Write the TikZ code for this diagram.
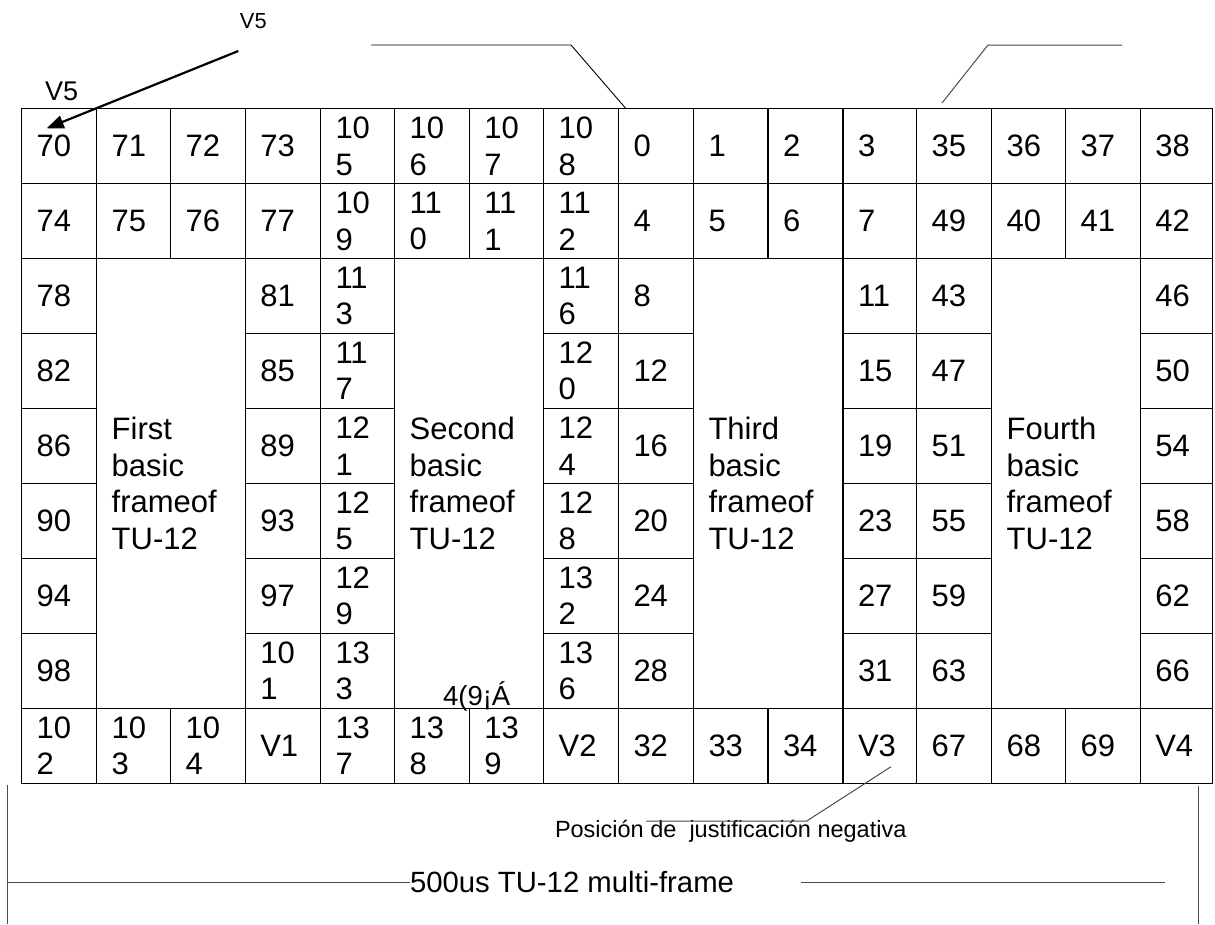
\documentclass[tikz,border=0pt]{standalone}
\usepackage{fontspec}
\setmainfont{Liberation Sans}
\usetikzlibrary{arrows.meta}
\def\xedges{{21.7,96.7,170.7,245.3,320.5,394.7,469.3,543.7,618.5,693.5,768.0,843.0,916.7,991.7,1065.7,1140.3,1212.3}}
\def\yedges{{108.7,183.6,258.6,333.5,408.5,483.4,558.4,633.3,708.3,783.2}}
\newcommand\cellnode[6]{%
  \pgfmathtruncatemacro\cellib{#2+#4}%
  \pgfmathtruncatemacro\celljb{#3+#5}%
  \pgfmathsetmacro\cellxa{\xedges[#2]}%
  \pgfmathsetmacro\cellxb{\xedges[\cellib]}%
  \pgfmathsetmacro\cellya{\yedges[#3]}%
  \pgfmathsetmacro\cellyb{\yedges[\celljb]}%
  \pgfmathsetmacro\cellw{\cellxb-\cellxa}%
  \pgfmathsetmacro\cellh{\cellyb-\cellya}%
  \pgfmathsetmacro\celltw{\cellw-30}%
  \pgfmathsetmacro\cellcx{(\cellxa+\cellxb)/2}%
  \pgfmathsetmacro\cellcy{(\cellya+\cellyb)/2}%
  \node[cell, minimum width=\cellw pt, minimum height=\cellh pt, text width=\celltw pt] (#1) at (\cellcx,\cellcy) {#6};%
}
\tikzset{
  cell/.style={draw, line width=1.3pt, inner xsep=15pt, inner ysep=0pt, align=left, anchor=center, outer sep=0pt,
    font=\fontsize{31}{36.5}\selectfont},
  lbl/.style={inner sep=0pt, outer sep=0pt},
  thinline/.style={line width=0.9pt, draw=black},
  grayline/.style={line width=1pt, draw=black!70},
}
\begin{document}
\begin{tikzpicture}[x=1pt,y=-1pt]
\useasboundingbox (0,0) rectangle (1215,924);
\fill[white] (0,0) rectangle (1215,924);
% row 0
\foreach \t [count=\i from 0] in {70,71,72,73,{10\\5},{10\\6},{10\\7},{10\\8},0,1,2,3,35,36,37,38}
  {\cellnode{c0-\i}{\i}{0}{1}{1}{\t}}
% row 1
\foreach \t [count=\i from 0] in {74,75,76,77,{10\\9},{11\\0},{11\\1},{11\\2},4,5,6,7,49,40,41,42}
  {\cellnode{c1-\i}{\i}{1}{1}{1}{\t}}
% row 8
\foreach \t [count=\i from 0] in {{10\\2},{10\\3},{10\\4},V1,{13\\7},{13\\8},{13\\9},V2,32,33,34,V3,67,68,69,V4}
  {\cellnode{c8-\i}{\i}{8}{1}{1}{\t}}
% side columns rows 2-7
\foreach \t [count=\k from 2] in {78,82,86,90,94,98}{\cellnode{c\k-0}{0}{\k}{1}{1}{\t}}
\foreach \t [count=\k from 2] in {81,85,89,93,97,{10\\1}}{\cellnode{c\k-3}{3}{\k}{1}{1}{\t}}
\foreach \t [count=\k from 2] in {{11\\3},{11\\7},{12\\1},{12\\5},{12\\9},{13\\3}}{\cellnode{c\k-4}{4}{\k}{1}{1}{\t}}
\foreach \t [count=\k from 2] in {{11\\6},{12\\0},{12\\4},{12\\8},{13\\2},{13\\6}}{\cellnode{c\k-7}{7}{\k}{1}{1}{\t}}
\foreach \t [count=\k from 2] in {8,12,16,20,24,28}{\cellnode{c\k-8}{8}{\k}{1}{1}{\t}}
\foreach \t [count=\k from 2] in {11,15,19,23,27,31}{\cellnode{c\k-11}{11}{\k}{1}{1}{\t}}
\foreach \t [count=\k from 2] in {43,47,51,55,59,63}{\cellnode{c\k-12}{12}{\k}{1}{1}{\t}}
\foreach \t [count=\k from 2] in {46,50,54,58,62,66}{\cellnode{c\k-15}{15}{\k}{1}{1}{\t}}
% merged basic frames
\cellnode{bf1}{1}{2}{2}{6}{First\\basic\\frameof\\TU-12}
\cellnode{bf2}{5}{2}{2}{6}{Second\\basic\\frameof\\TU-12}
\cellnode{bf3}{9}{2}{2}{6}{Third\\basic\\frameof\\TU-12}
\cellnode{bf4}{13}{2}{2}{6}{Fourth\\basic\\frameof\\TU-12}
% labels
\node[lbl, font=\fontsize{21.8}{26}\selectfont, anchor=base] (v5top) at (253.3,28.3) {V5};
\node[lbl, font=\fontsize{27}{30}\selectfont, anchor=base west] (v5low) at (45,100) {V5};
\node[lbl, font=\fontsize{27.5}{30}\selectfont, anchor=base] (glitch) at (476.7,705) {4(9¡Á};
\node[lbl, font=\fontsize{23.5}{26}\selectfont, anchor=base west] (neg) at (555,837.7) {Posición de\ \ justificación negativa};
\node[lbl, font=\fontsize{29.3}{32}\selectfont, anchor=base west] (span) at (410,892) {500us TU-12 multi-frame};
% connector coordinates
\coordinate (v5s) at (238.3,51);
\coordinate (v5t) at (46.7,128.3);
\coordinate (m1) at (371,45);
\coordinate (m2) at (571,45);
\coordinate (m3) at (626,108.7);
\coordinate (r1) at (942,103);
\coordinate (r2) at (988,45);
\coordinate (r3) at (1122,45);
\coordinate (n1) at (891,766.7);
\coordinate (n2) at (806.7,821);
\coordinate (n3) at (646,821);
\coordinate (lt) at (7.5,785);
\coordinate (lb) at (7.5,924);
\coordinate (lm) at (7.5,882);
\coordinate (rt) at (1198.3,785.7);
\coordinate (rb) at (1198.3,924);
\coordinate (h1) at (801,882);
\coordinate (h2) at (1165,882);
% connectors
\draw[line width=2.2pt, -{Triangle[length=17pt,width=13pt]}] (v5s) -- (v5t);
\draw[thinline] (m1) -- (m2) -- (m3);
\draw[grayline] (r1) -- (r2) -- (r3);
\draw[grayline] (n1) -- (n2) -- (n3);
\draw[grayline] (lt) -- (lb);
\draw[grayline] (rt) -- (rb);
\draw[grayline] (lm) -- (span.west |- lm);
\draw[grayline] (h1) -- (h2);
\end{tikzpicture}
\end{document}
